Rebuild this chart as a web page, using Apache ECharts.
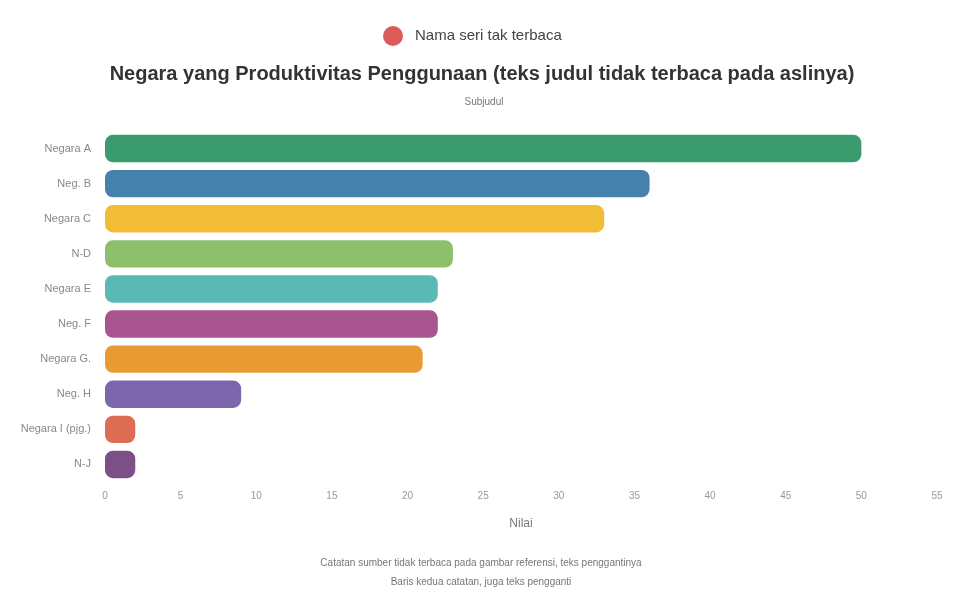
<!DOCTYPE html>
<html><head><meta charset="utf-8">
<style>html,body{margin:0;padding:0;background:#fff}#c{width:954px;height:596px}</style>
<script src="https://cdn.jsdelivr.net/npm/echarts@6/dist/echarts.min.js"></script>
</head><body><div id="c"></div>
<script>
// All text is placeholder: the reference text is illegible.
const categories = ["Negara A","Neg. B","Negara C","N-D","Negara E","Neg. F","Negara G.","Neg. H","Negara I (pjg.)","N-J"];
const values = [50,36,33,23,22,22,21,9,2,2];
const colors = ["#3a9b6e","#4681ad","#f2bc36","#8ec06c","#5ab8b5","#a9558f","#e99a33","#7d66ab","#dd6e55","#7c4f87"];
const seriesName = "Nama seri tak terbaca";
const titleText = "Negara yang Produktivitas Penggunaan (teks judul tidak terbaca pada aslinya)";
const subtitleText = "Subjudul";
const axisName = "Nilai";
const footerLines = ["Catatan sumber tidak terbaca pada gambar referensi, teks penggantinya","Baris kedua catatan, juga teks pengganti"];

const chart = echarts.init(document.getElementById('c'), null, {renderer:'canvas'});
chart.setOption({
  animation:false,
  backgroundColor:'#fff',
  textStyle:{fontFamily:'"Liberation Sans",Arial,sans-serif'},
  color:['#dd5a5a'],
  legend:{top:21,left:378,icon:'circle',itemWidth:20,itemHeight:20,
    textStyle:{fontSize:15,color:'#444',padding:[0,0,0,7]},data:[seriesName]},
  title:[
    {text:titleText,left:477,top:59,textAlign:'center',textStyle:{fontSize:20,fontWeight:'bold',color:'#333'}},
    {text:subtitleText,left:479,top:92,textAlign:'center',textStyle:{fontSize:10,fontWeight:'normal',color:'#777'}},
    {text:footerLines.join('\n'),left:476,top:549,textAlign:'center',textStyle:{fontSize:10,lineHeight:19,fontWeight:'normal',color:'#777'}}
  ],
  grid:{left:105,right:17,top:131,bottom:114,outerBoundsMode:'none'},
  xAxis:{type:'value',min:0,max:55,interval:5,name:axisName,nameLocation:'middle',nameGap:36,
    nameTextStyle:{fontSize:12,color:'#777',padding:[0,0,0,0]},
    nameMoveOverlap:false,
    axisLine:{show:false},axisTick:{show:false},splitLine:{show:false},
    axisLabel:{fontSize:10,color:'#999',margin:9}},
  yAxis:{type:'category',inverse:true,data:categories,
    axisLine:{show:false},axisTick:{show:false},
    axisLabel:{fontSize:11,color:'#888',margin:14}},
  series:[{name:seriesName,type:'bar',barWidth:'78%',
    data:values.map((v,i)=>({value:v,itemStyle:{color:colors[i],borderRadius:8}}))}]
});
</script></body></html>
